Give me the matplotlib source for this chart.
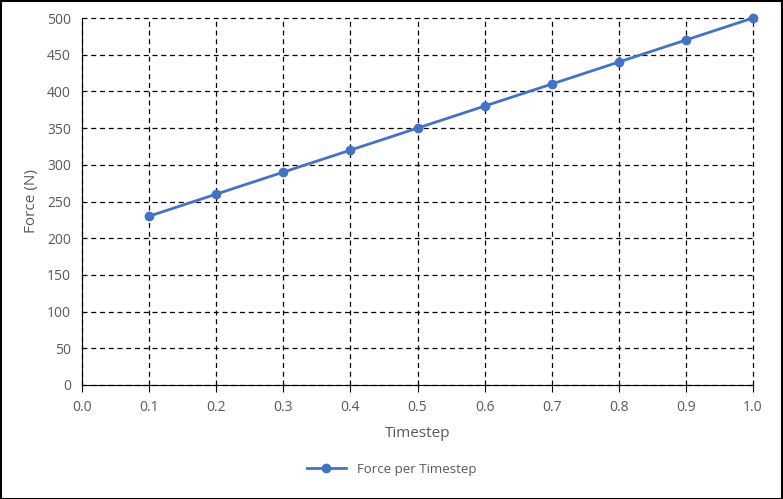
import matplotlib.pyplot as plt
from matplotlib.patches import Rectangle

timesteps = [0.1, 0.2, 0.3, 0.4, 0.5, 0.6, 0.7, 0.8, 0.9, 1.0]
force = [230, 260, 290, 320, 350, 380, 410, 440, 470, 500]
x_ticks = [0.0, 0.1, 0.2, 0.3, 0.4, 0.5, 0.6, 0.7, 0.8, 0.9, 1.0]
y_ticks = [0, 50, 100, 150, 200, 250, 300, 350, 400, 450, 500]

plt.rcParams['font.family'] = ['Open Sans', 'DejaVu Sans']

W, H = 783, 499
fig = plt.figure(figsize=(W / 100, H / 100), dpi=100)
ax = fig.add_axes([82 / W, 1 - 385 / H, (753 - 82) / W, (385 - 18) / H])

line_color = '#4472C4'
ax.plot(timesteps, force, color=line_color, lw=2, marker='o', ms=6,
        label='Force per Timestep', zorder=3, clip_on=False)

ax.set_xlim(0, 1.0)
ax.set_ylim(0, 500)
ax.set_xticks(x_ticks)
ax.set_xticklabels([f'{v:.1f}' for v in x_ticks])
ax.set_yticks(y_ticks)

# Dashed black gridlines, solid left and bottom axes.
ax.grid(True, color='black', linestyle=(0, (4, 3)), lw=0.9)
for gl in ax.get_xgridlines() + ax.get_ygridlines():
    gl.set_clip_on(False)
ax.spines['top'].set_visible(False)
ax.spines['right'].set_visible(False)
ax.spines['left'].set_color('black')
ax.spines['bottom'].set_color('black')

ax.tick_params(axis='y', length=0, pad=8, labelsize=10, labelcolor='#595959')
ax.tick_params(axis='x', length=5, direction='out', color='black', pad=6,
               labelsize=10, labelcolor='#595959')

ax.set_xlabel('Timestep', fontsize=11, color='#595959', labelpad=8)
ax.set_ylabel('Force (N)', fontsize=11, color='#595959', labelpad=6)

fig.legend(loc='center', bbox_to_anchor=(0.5, 1 - 469 / H), frameon=False,
           fontsize=9.5, labelcolor='#595959', handlelength=3)

# Border around the chart.
fig.patches.append(Rectangle((0.5 / W, 0.5 / H), 1 - 1.5 / W, 1 - 1.5 / H,
                             transform=fig.transFigure, fill=False,
                             edgecolor='black', lw=1.5))

fig.savefig('out.png', dpi=100)
